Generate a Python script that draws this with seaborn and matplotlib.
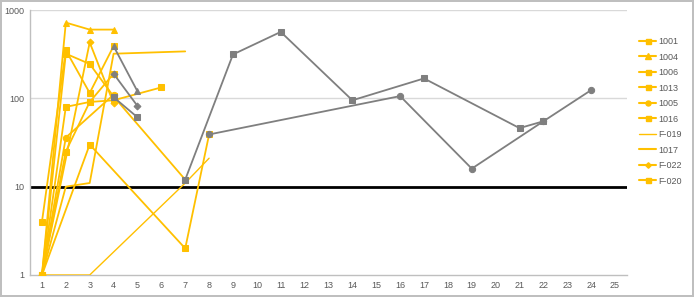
import matplotlib
matplotlib.use("Agg")
import matplotlib.pyplot as plt
from matplotlib.lines import Line2D
import seaborn as sns
import pandas as pd

sns.set_theme(style="white")
plt.rcParams['font.family'] = ['Liberation Sans', 'DejaVu Sans']

YELLOW = "#FFC000"
GRAY = "#7F7F7F"

# ---- data (category day, value) ----
s1001_x = [1, 2, 3, 4];            s1001_y = [4, 350, 115, 390]
s1004_x = [1, 2, 3, 4];            s1004_y = [1, 720, 600, 600]
s1006_x = [1, 2, 3, 4, 7];         s1006_y = [1, 320, 245, 105, 12]
s1013_x = [1, 2, 3, 4, 6];         s1013_y = [1, 80, 91, 95, 133]
s1005_x = [1, 2, 4];               s1005_y = [1, 36, 110]
s1016_x = [1, 2, 3, 4];            s1016_y = [1, 25, 91, 190]
sF019_x = [1, 3, 7, 8];            sF019_y = [1, 1, 11, 21]
s1017_x = [1, 2, 3, 4, 7];         s1017_y = [1, 10, 11, 320, 340]
sF022_x = [1, 3, 4];               sF022_y = [1, 430, 88]
sF020_x = [1, 3, 7, 8];            sF020_y = [1, 30, 2, 39]

g1_x = [4, 5];                     g1_y = [390, 120]
g2_x = [4, 5];                     g2_y = [190, 82]
g3_x = [4, 5];                     g3_y = [103, 61]
g4_x = [7, 9, 11, 14, 17, 21, 22]; g4_y = [12, 314, 565, 95, 168, 46, 55]
g5_x = [8, 16, 19, 22, 24];        g5_y = [39, 106, 16, 55, 124]

threshold = 10
categories = list(range(1, 26))
ytick_vals = [1, 10, 100, 1000]
ytick_labels = ["1", "10", "100", "1000"]

yellow_series = [
    ("1001", s1001_x, s1001_y, "s", 4.5, 1.3),
    ("1004", s1004_x, s1004_y, "^", 5.0, 1.3),
    ("1006", s1006_x, s1006_y, "s", 4.5, 1.3),
    ("1013", s1013_x, s1013_y, "s", 4.5, 1.3),
    ("1005", s1005_x, s1005_y, "o", 4.5, 1.3),
    ("1016", s1016_x, s1016_y, "s", 4.5, 1.3),
    ("F-019", sF019_x, sF019_y, None, 0, 1.0),
    ("1017", s1017_x, s1017_y, None, 0, 1.3),
    ("F-022", sF022_x, sF022_y, "D", 3.5, 1.3),
    ("F-020", sF020_x, sF020_y, "s", 4.5, 1.3),
]
gray_series = [
    (g1_x, g1_y, "^", 5.0),
    (g2_x, g2_y, "D", 3.5),
    (g3_x, g3_y, "s", 4.5),
    (g4_x, g4_y, "s", 4.5),
    (g5_x, g5_y, "o", 4.5),
]

fig = plt.figure(figsize=(6.94, 2.97), dpi=100)
fig.patch.set_facecolor("white")
fig.patch.set_edgecolor("#BFBFBF")
fig.patch.set_linewidth(1.5)
ax = fig.add_axes([30 / 694, 22 / 297, (627 - 30) / 694, (275 - 10) / 297])

# gridlines
for v in [100, 1000]:
    ax.axhline(v, color="#D9D9D9", lw=1.0, zorder=0)
ax.axhline(threshold, color="black", lw=2.0, zorder=1)

for name, xs, ys, mk, ms, lw in yellow_series:
    df = pd.DataFrame({"x": xs, "y": ys})
    sns.lineplot(data=df, x="x", y="y", ax=ax, color=YELLOW, lw=lw,
                 marker=mk if mk else None, markersize=ms,
                 markeredgecolor=YELLOW, markerfacecolor=YELLOW,
                 estimator=None, sort=False, legend=False, zorder=3)

for xs, ys, mk, ms in gray_series:
    df = pd.DataFrame({"x": xs, "y": ys})
    sns.lineplot(data=df, x="x", y="y", ax=ax, color=GRAY, lw=1.3,
                 marker=mk, markersize=ms,
                 markeredgecolor=GRAY, markerfacecolor=GRAY,
                 estimator=None, sort=False, legend=False, zorder=4)

ax.set_yscale("log")
ax.set_ylim(1, 1000)
ax.set_xlim(0.5, 25.5)
ax.set_yticks(ytick_vals)
ax.set_yticklabels(ytick_labels)
ax.yaxis.set_minor_locator(matplotlib.ticker.NullLocator())
ax.set_xticks(categories)
ax.set_xticklabels([str(c) for c in categories])
ax.set_xticks([c + 0.5 for c in range(0, 26)], minor=True)
ax.tick_params(axis="x", which="major", length=0, labelsize=6.5, colors="#595959", pad=4)
ax.tick_params(axis="x", which="minor", length=3, width=0.8, color="#BFBFBF", direction="out")
ax.tick_params(axis="y", which="major", length=0, labelsize=6.5, colors="#595959", pad=4)
ax.set_xlabel("")
ax.set_ylabel("")
for side in ["top", "right"]:
    ax.spines[side].set_visible(False)
for side in ["left", "bottom"]:
    ax.spines[side].set_color("#BFBFBF")
    ax.spines[side].set_linewidth(1.0)

handles = []
labels = []
for name, xs, ys, mk, ms, lw in yellow_series:
    h = Line2D([], [], color=YELLOW, lw=1.5 if lw > 1.1 else 1.0,
               marker=mk if mk else None, markersize=ms * 0.8,
               markeredgecolor=YELLOW, markerfacecolor=YELLOW)
    handles.append(h)
    labels.append(name)
fig.legend(handles, labels, loc="upper left", bbox_to_anchor=(639 / 694, 0.875),
           frameon=False, fontsize=6.5, handlelength=1.9, handletextpad=0.2,
           labelspacing=0.72, borderpad=0, borderaxespad=0, labelcolor="#595959")

fig.savefig("out.png", dpi=100)
